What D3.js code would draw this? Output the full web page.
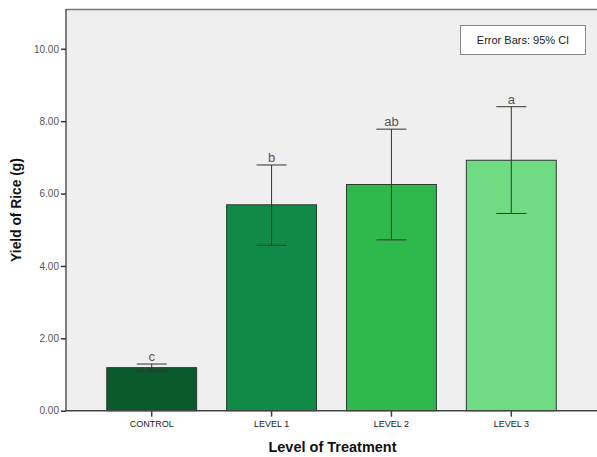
<!DOCTYPE html>
<html><head><meta charset="utf-8">
<script src="https://cdn.jsdelivr.net/npm/d3@7"></script>
<style>body{margin:0;background:#fff}svg{display:block}</style>
</head><body><svg id="c" width="597" height="457"></svg>
<script>
const categories = ["CONTROL", "LEVEL 1", "LEVEL 2", "LEVEL 3"];
const means = [1.19, 5.69, 6.25, 6.92];
const ciLow = [1.10, 4.57, 4.72, 5.45];
const ciHigh = [1.29, 6.79, 7.78, 8.40];
const letters = ["c", "b", "ab", "a"];
const colors = ["#0b5a2e", "#0f8a47", "#2fb84c", "#6fdc84"];
const yTicks = [0, 2, 4, 6, 8, 10];

const svg = d3.select("#c");
const m = {l: 66, t: 9, r: 597, b: 410.7};
const x = d3.scaleBand().domain(categories).range([m.l, m.r]).paddingInner(0.25).paddingOuter(0.34);
const y = d3.scaleLinear().domain([0, 11.1]).range([m.b, m.t]);

svg.append("rect").attr("x", m.l).attr("y", m.t).attr("width", m.r - m.l + 2).attr("height", m.b - m.t)
  .attr("fill", "#efefef");
svg.append("line").attr("x1", m.l).attr("x2", m.r + 2).attr("y1", m.t + 0.5).attr("y2", m.t + 0.5)
  .attr("stroke", "#777").attr("stroke-width", 1.5);

const g = svg.append("g");
g.selectAll("rect.bar").data(categories).join("rect").attr("class", "bar")
  .attr("x", d => x(d)).attr("width", x.bandwidth())
  .attr("y", (d, i) => y(means[i])).attr("height", (d, i) => y(0) - y(means[i]))
  .attr("fill", (d, i) => colors[i]).attr("stroke", "#2e3a30").attr("stroke-width", 1);

const cap = 15;
categories.forEach((c, i) => {
  const cx = x(c) + x.bandwidth() / 2;
  g.append("line").attr("x1", cx).attr("x2", cx).attr("y1", y(ciLow[i])).attr("y2", y(ciHigh[i]))
    .attr("stroke", "#333").attr("stroke-width", 1);
  [ciLow[i], ciHigh[i]].forEach(v => {
    g.append("line").attr("x1", cx - cap).attr("x2", cx + cap).attr("y1", y(v)).attr("y2", y(v))
      .attr("stroke", "#333").attr("stroke-width", 1);
  });
  g.append("text").attr("x", cx).attr("y", y(ciHigh[i]) - 3).attr("text-anchor", "middle")
    .attr("font-family", "Arial, Liberation Sans, sans-serif").attr("font-size", 13).attr("fill", "#555")
    .text(letters[i]);
});

// y axis
const ya = svg.append("g").attr("transform", `translate(${m.l},0)`)
  .call(d3.axisLeft(y).tickValues(yTicks).tickFormat(d3.format(".2f")).tickSize(5).tickPadding(2));
ya.select(".domain").attr("stroke", "#555").attr("stroke-width", 1.5).attr("d", `M0,${m.t}V${m.b}`);
ya.selectAll(".tick line").attr("stroke", "#333").attr("stroke-width", 1.5);
ya.selectAll(".tick text").attr("font-family", "Arial, Liberation Sans, sans-serif").attr("font-size", 10).attr("fill", "#555");

// x axis
const xa = svg.append("g").attr("transform", `translate(0,${m.b})`)
  .call(d3.axisBottom(x).tickSize(6).tickPadding(4));
xa.select(".domain").attr("stroke", "#444").attr("stroke-width", 1.5).attr("d", `M${m.l},0H${m.r + 2}`);
xa.selectAll(".tick line").attr("stroke", "#444").attr("stroke-width", 1.5);
xa.selectAll(".tick text").attr("font-family", "Arial, Liberation Sans, sans-serif").attr("font-size", 9).attr("fill", "#222");

// titles
svg.append("text").attr("transform", `translate(21,210) rotate(-90)`).attr("text-anchor", "middle")
  .attr("font-family", "Arial, Liberation Sans, sans-serif").attr("font-size", 13.8).attr("font-weight", "bold").attr("fill", "#111")
  .text("Yield of Rice (g)");
svg.append("text").attr("x", 332.5).attr("y", 452).attr("text-anchor", "middle")
  .attr("font-family", "Arial, Liberation Sans, sans-serif").attr("font-size", 14.5).attr("font-weight", "bold").attr("fill", "#111")
  .text("Level of Treatment");

// legend box
svg.append("rect").attr("x", 460.5).attr("y", 25.5).attr("width", 125).attr("height", 29)
  .attr("fill", "#fff").attr("stroke", "#888");
svg.append("text").attr("x", 523).attr("y", 44).attr("text-anchor", "middle")
  .attr("font-family", "Arial, Liberation Sans, sans-serif").attr("font-size", 11).attr("fill", "#222")
  .text("Error Bars: 95% CI");
</script></body></html>
